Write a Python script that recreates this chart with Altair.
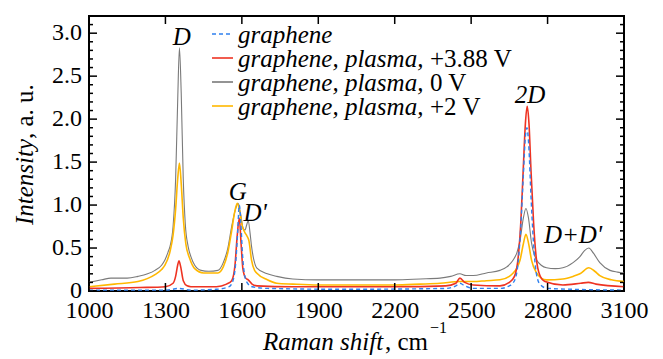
import altair as alt
import pandas as pd

# ---------------- data ----------------
gr_x = [1000, 1300, 1355, 1400, 1500, 1550, 1565, 1575, 1583, 1590, 1596, 1602, 1610, 1620, 1640, 1700,
        2000, 2400, 2440, 2456, 2475, 2508, 2613, 2650, 2670, 2685, 2695, 2705, 2713, 2719, 2726, 2735,
        2745, 2755, 2770, 2800, 3100]
gr_y = [0.01, 0.01, 0.03, 0.01, 0.02, 0.05, 0.12, 0.30, 0.65, 1.00, 0.80, 0.45, 0.20, 0.10, 0.05, 0.03,
        0.02, 0.03, 0.06, 0.09, 0.06, 0.03, 0.03, 0.06, 0.12, 0.35, 0.75, 1.35, 1.80, 1.90, 1.70, 1.10,
        0.55, 0.22, 0.08, 0.03, 0.01]

p388_x = [1000, 1200, 1300, 1330, 1340, 1348, 1353, 1360, 1370, 1385, 1400, 1500, 1540, 1560, 1573, 1582,
          1590, 1597, 1604, 1615, 1625, 1640, 1660, 1800, 2000, 2200, 2400, 2440, 2456, 2475, 2508, 2613,
          2650, 2670, 2685, 2695, 2705, 2713, 2720, 2727, 2735, 2745, 2755, 2770, 2790, 2860, 2930, 2960,
          2990, 3100]
p388_y = [0.03, 0.04, 0.05, 0.09, 0.17, 0.30, 0.35, 0.28, 0.12, 0.06, 0.05, 0.05, 0.08, 0.12, 0.30, 0.65,
          0.85, 0.55, 0.26, 0.15, 0.13, 0.08, 0.06, 0.05, 0.05, 0.05, 0.06, 0.09, 0.15, 0.10, 0.07, 0.06,
          0.10, 0.17, 0.40, 0.80, 1.45, 1.95, 2.15, 1.95, 1.40, 0.80, 0.40, 0.18, 0.11, 0.07, 0.09, 0.10,
          0.08, 0.05]

p0_x = [1000, 1050, 1086, 1150, 1192, 1230, 1259, 1285, 1298, 1310, 1318, 1330, 1340, 1348, 1355, 1362,
        1370, 1378, 1389, 1400, 1415, 1440, 1470, 1506, 1527, 1545, 1560, 1575, 1585, 1595, 1605, 1612,
        1620, 1625, 1632, 1638, 1648, 1658, 1700, 1737, 1800, 1900, 2000, 2100, 2200, 2300, 2378, 2420,
        2456, 2480, 2508, 2560, 2613, 2640, 2665, 2680, 2692, 2705, 2715, 2725, 2737, 2748, 2757, 2775,
        2796, 2830, 2860, 2900, 2927, 2945, 2962, 2980, 3005, 3045, 3075, 3100]
p0_y = [0.10, 0.13, 0.15, 0.15, 0.17, 0.20, 0.24, 0.30, 0.36, 0.45, 0.52, 0.75, 1.30, 2.20, 2.83, 2.30,
        1.30, 0.78, 0.52, 0.40, 0.30, 0.24, 0.23, 0.24, 0.33, 0.50, 0.75, 0.95, 1.02, 0.90, 0.73, 0.71,
        0.78, 0.82, 0.68, 0.52, 0.35, 0.27, 0.20, 0.17, 0.14, 0.13, 0.13, 0.13, 0.13, 0.14, 0.15, 0.17,
        0.20, 0.18, 0.18, 0.21, 0.24, 0.28, 0.36, 0.45, 0.59, 0.85, 0.96, 0.85, 0.56, 0.42, 0.36, 0.30,
        0.27, 0.26, 0.27, 0.33, 0.40, 0.47, 0.50, 0.44, 0.33, 0.24, 0.22, 0.21]

p2_x = [1000, 1100, 1192, 1259, 1285, 1298, 1318, 1330, 1340, 1348, 1355, 1362, 1370, 1380, 1395, 1415,
        1450, 1506, 1527, 1545, 1560, 1572, 1582, 1592, 1602, 1612, 1620, 1628, 1638, 1650, 1658, 1700,
        1737, 1800, 1900, 2000, 2100, 2200, 2300, 2378, 2456, 2508, 2560, 2613, 2650, 2665, 2680, 2692,
        2705, 2715, 2725, 2737, 2757, 2775, 2796, 2860, 2900, 2927, 2962, 2985, 3005, 3050, 3100]
p2_y = [0.05, 0.08, 0.11, 0.19, 0.25, 0.30, 0.46, 0.65, 0.95, 1.30, 1.49, 1.25, 0.85, 0.55, 0.38, 0.26,
        0.21, 0.21, 0.28, 0.45, 0.70, 0.92, 1.02, 0.92, 0.75, 0.68, 0.64, 0.58, 0.36, 0.24, 0.21, 0.13,
        0.09, 0.08, 0.07, 0.07, 0.07, 0.07, 0.08, 0.09, 0.11, 0.11, 0.12, 0.13, 0.17, 0.21, 0.27, 0.36,
        0.55, 0.66, 0.56, 0.36, 0.21, 0.15, 0.13, 0.14, 0.17, 0.20, 0.27, 0.23, 0.18, 0.13, 0.11]

x_ticks = [1000, 1300, 1600, 1900, 2200, 2500, 2800, 3100]
y_major = [0, 0.5, 1.0, 1.5, 2.0, 2.5, 3.0]
y_labels = ["0", "0.5", "1.0", "1.5", "2.0", "2.5", "3.0"]
y_minor = [0.1, 0.2, 0.3, 0.4, 0.6, 0.7, 0.8, 0.9, 1.1, 1.2, 1.3, 1.4, 1.6, 1.7, 1.8, 1.9,
           2.1, 2.2, 2.3, 2.4, 2.6, 2.7, 2.8, 2.9, 3.1]

ann_text = ["D", "G", "D'", "2D", "D+D'"]
ann_x = [1364, 1584, 1652, 2731, 2900]
ann_y = [2.96, 1.15, 0.91, 2.28, 0.65]

leg_italic = ["graphene", "graphene, plasma,", "graphene, plasma,", "graphene, plasma,"]
leg_roman = ["", "+3.88 V", "0 V", "+2 V"]

# ---------------- styling ----------------
W, H = 535, 275
FONT = "Times New Roman"
BLUE, RED, GRAY, YELLOW = "#2F80EE", "#EE3322", "#7A7A7A", "#FFB800"

xs = alt.Scale(domain=[1000, 3100], nice=False, zero=False)
ys = alt.Scale(domain=[0, 3.2], nice=False, zero=False)

x_axis = alt.Axis(values=x_ticks, format="d", title=None, ticks=False, domain=False, grid=False,
                  labelFont=FONT, labelFontSize=24, labelColor="black", labelPadding=7,
                  labelFlush=False)


def X(f="x"):
    return alt.X(f"{f}:Q", scale=xs, axis=x_axis)


def Y(f="y"):
    return alt.Y(f"{f}:Q", scale=ys, axis=None)


def line(xv, yv, color, width, dash=None):
    kw = dict(color=color, strokeWidth=width, clip=True, interpolate="monotone")
    if dash:
        kw["strokeDash"] = dash
    return alt.Chart(pd.DataFrame({"x": xv, "y": yv})).mark_line(**kw).encode(x=X(), y=Y())


def txt(t, x, y, size=25, style="normal", align="left", angle=0):
    kw = dict(font=FONT, fontSize=size, fontStyle=style, align=align)
    if angle:
        kw["angle"] = angle
    return alt.Chart(pd.DataFrame({"t": [t]})).mark_text(**kw).encode(
        x=alt.value(x), y=alt.value(y), text="t:N")


layers = []
layers.append(line(p0_x, p0_y, GRAY, 1.1))
layers.append(line(p2_x, p2_y, YELLOW, 1.6))
layers.append(line(p388_x, p388_y, RED, 1.6))
layers.append(line(gr_x, gr_y, BLUE, 1.4, dash=[4, 3]))

# ticks (inward)
xt = pd.DataFrame({"x": x_ticks})
ymj = pd.DataFrame({"y": y_major, "lab": y_labels})
ymn = pd.DataFrame({"y": y_minor})
tick = dict(color="black", strokeWidth=1.5)
layers.append(alt.Chart(xt).mark_rule(**tick).encode(x=X(), y=alt.value(H), y2=alt.value(H - 8)))
layers.append(alt.Chart(xt).mark_rule(**tick).encode(x=X(), y=alt.value(0), y2=alt.value(8)))
layers.append(alt.Chart(ymj).mark_rule(**tick).encode(y=Y(), x=alt.value(0), x2=alt.value(8)))
layers.append(alt.Chart(ymn).mark_rule(**tick).encode(y=Y(), x=alt.value(0), x2=alt.value(4)))
layers.append(alt.Chart(ymj).mark_rule(**tick).encode(y=Y(), x=alt.value(W), x2=alt.value(W - 8)))
layers.append(alt.Chart(ymn).mark_rule(**tick).encode(y=Y(), x=alt.value(W), x2=alt.value(W - 4)))

# y tick labels
layers.append(alt.Chart(ymj).mark_text(font=FONT, fontSize=24, align="right").encode(
    y=Y(), x=alt.value(-7), text="lab:N"))

# peak annotations
ann = pd.DataFrame({"t": ann_text, "x": ann_x, "y": ann_y})
layers.append(alt.Chart(ann).mark_text(font=FONT, fontSize=25, fontStyle="italic", align="center").encode(
    x=X(), y=Y(), text="t:N"))

# legend (manual, to allow mixed italic/roman)
leg_colors = [BLUE, RED, GRAY, YELLOW]
row_y = [18, 42, 66, 90]
for i in range(4):
    kw = dict(color=leg_colors[i], strokeWidth=1.6)
    if i == 0:
        kw["strokeDash"] = [4, 3]
    layers.append(alt.Chart(pd.DataFrame({"a": [0]})).mark_rule(**kw).encode(
        x=alt.value(123), x2=alt.value(144), y=alt.value(row_y[i])))
    layers.append(txt(leg_italic[i], 149, row_y[i] + 1, style="italic"))
    if leg_roman[i]:
        layers.append(txt(leg_roman[i], 341, row_y[i] + 1))

# axis titles
layers.append(txt("Raman shift", 174, 326, style="italic"))
layers.append(txt(", cm", 296, 326))
layers.append(txt("\u22121", 341, 312, size=16))
layers.append(txt("Intensity", -64, 209, style="italic", angle=270))
layers.append(txt(", a. u.", -64, 123, angle=270))

chart = alt.layer(*layers).properties(
    width=W, height=H,
    background="white",
    autosize=alt.AutoSizeParams(type="none"),
    padding={"left": 81, "top": 8, "right": 30, "bottom": 68},
).configure(font=FONT).configure_view(stroke="black", strokeWidth=2)

chart.save("out.html", embed_options={"renderer": "svg", "actions": False})
